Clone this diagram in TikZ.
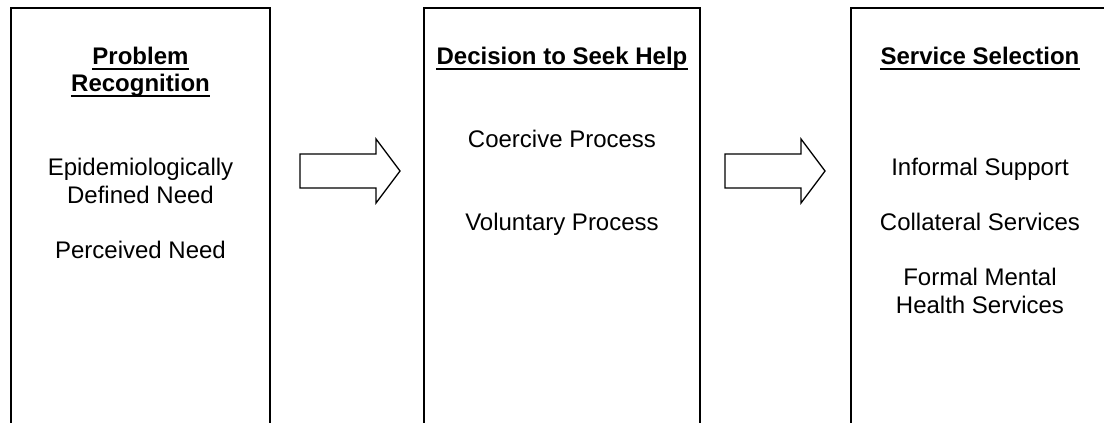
\documentclass[tikz,border=0pt]{standalone}
\usepackage{fontspec}
\setmainfont{Liberation Sans}
\begin{document}
\begin{tikzpicture}[x=1pt,y=-1pt,
  panel/.style={line width=2pt},
  body/.style={anchor=base,inner sep=0pt,font=\fontsize{24}{27.6}\selectfont},
  headtext/.style={body,font=\fontsize{24}{27.6}\selectfont\bfseries},
  uline/.style={line width=2pt},
  blockarrow/.style={line width=1.3pt,fill=white,line join=miter}]
% page area
\clip (0,0) rectangle (1104,423);
\fill[white] (0,0) rectangle (1104,423);

% three stage panels (open at the bottom of the page)
\draw[panel] (11,8) rectangle (270,460);
\draw[panel] (424,8) rectangle (700,460);
\draw[panel] (851,8) rectangle (1120,460);

% stage 1
\node[headtext] (h1a) at (140.5,64) {Problem};
\node[headtext] (h1b) at (140.5,91.6) {Recognition};
\node[body] (t1a) at (140.5,175.4) {Epidemiologically};
\node[body] (t1b) at (140.5,203) {Defined Need};
\node[body] (t1c) at (140.5,258.2) {Perceived Need};

% stage 2
\node[headtext] (h2) at (562,64) {Decision to Seek Help};
\node[body] (t2a) at (562,147.8) {Coercive Process};
\node[body] (t2b) at (562,230.6) {Voluntary Process};

% stage 3
\node[headtext] (h3) at (980,64) {Service Selection};
\node[body] (t3a) at (980,175.4) {Informal Support};
\node[body] (t3b) at (980,230.6) {Collateral Services};
\node[body] (t3c) at (980,285.8) {Formal Mental};
\node[body] (t3d) at (980,313.4) {Health Services};

% heading underlines
\foreach \h in {h1a,h1b,h2,h3}
  \draw[uline] ([yshift=-4.5pt]\h.base west) -- ([yshift=-4.5pt]\h.base east);

% block arrows between the stages
\coordinate (a1) at (300,171);
\coordinate (a2) at (725,171);
\foreach \a in {a1,a2}
  \draw[blockarrow] ([yshift=17pt]\a) -- ++(76,0) -- ++(0,-15) -- ++(24,32)
    -- ++(-24,32) -- ++(0,-15) -- ++(-76,0) -- cycle;
\end{tikzpicture}
\end{document}
